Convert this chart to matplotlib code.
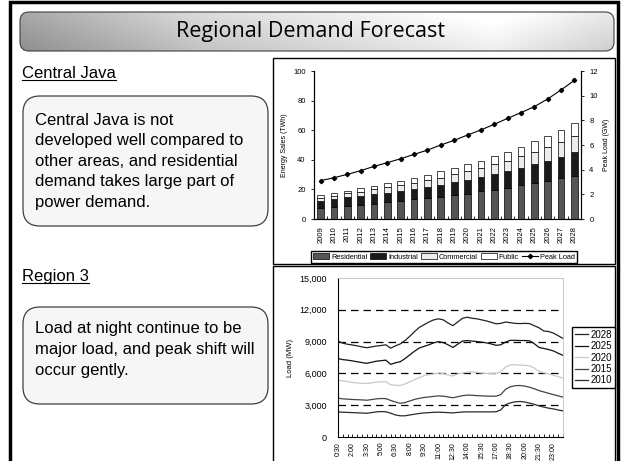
import numpy as np
import matplotlib.pyplot as plt
from matplotlib.patches import FancyBboxPatch, Rectangle
from matplotlib.ticker import StrMethodFormatter

plt.rcParams['font.family'] = ['Liberation Sans', 'DejaVu Sans']

# ---- data: Central Java energy sales (TWh) and peak load (GW)
years = [str(y) for y in range(2009, 2029)]
residential = [7.7, 8.3, 9.0, 9.7, 10.4, 11.3, 12.2, 13.3, 14.0, 14.9,
               16.0, 17.1, 18.7, 19.6, 21.2, 22.7, 24.3, 25.7, 27.5, 29.3]
industrial = [4.7, 5.2, 5.6, 5.8, 6.3, 6.5, 6.9, 7.0, 7.6, 8.3,
              9.0, 9.5, 9.7, 11.0, 11.2, 12.0, 12.6, 13.5, 14.6, 16.0]
commercial = [2.0, 2.3, 2.7, 3.0, 3.3, 3.6, 3.9, 4.2, 4.5, 4.7,
              5.4, 5.6, 6.3, 6.6, 7.0, 7.9, 8.6, 9.7, 9.9, 10.6]
public = [1.8, 1.8, 1.8, 2.2, 2.3, 2.7, 2.9, 3.2, 3.9, 4.3,
          3.8, 5.0, 4.7, 5.1, 5.9, 6.0, 7.0, 7.1, 8.0, 8.7]
peak_load = [3.11, 3.35, 3.62, 3.92, 4.27, 4.57, 4.89, 5.24, 5.59, 6.00,
             6.38, 6.81, 7.22, 7.68, 8.16, 8.62, 9.11, 9.73, 10.46, 11.24]

# ---- data: Region 3 daily load curve (MW), half-hourly 0:30 .. 24:00
hours = ['%d:%02d' % ((m // 60), m % 60) for m in range(30, 24 * 60 + 1, 30)]
load_2028 = [9050, 8850, 8750, 8680, 8600, 8500, 8420, 8500, 8580, 8630, 8700, 8380,
             8600, 8780, 9100, 9500, 9950, 10350, 10600, 10850, 11050, 11150, 11050, 10750,
             10500, 10850, 11200, 11300, 11200, 11150, 11050, 10950, 10820, 10680, 10720, 10850,
             10780, 10720, 10700, 10720, 10700, 10500, 10300, 10000, 9950, 9800, 9550, 9300]
load_2025 = [7400, 7300, 7250, 7180, 7100, 7020, 6950, 7050, 7150, 7200, 7250, 6850,
             7000, 7100, 7400, 7750, 8100, 8400, 8550, 8700, 8880, 9000, 8900, 8700,
             8450, 8750, 9050, 9100, 9050, 9000, 8950, 8880, 8780, 8650, 8700, 8950,
             9120, 9120, 9100, 9100, 9080, 8800, 8450, 8350, 8250, 8120, 7900, 7700]
load_2020 = [5370, 5300, 5220, 5150, 5100, 5070, 5050, 5100, 5180, 5200, 5220, 4920,
             4880, 4860, 5000, 5200, 5420, 5600, 5800, 5880, 5950, 6050, 5980, 5850,
             5750, 5950, 6050, 6100, 6150, 6100, 6030, 6000, 5980, 5970, 6150, 6600,
             6800, 6820, 6780, 6760, 6720, 6500, 6200, 6050, 5950, 5820, 5700, 5530]
load_2015 = [3660, 3600, 3570, 3540, 3520, 3500, 3470, 3530, 3600, 3630, 3620, 3450,
             3300, 3180, 3250, 3400, 3550, 3650, 3730, 3780, 3830, 3880, 3850, 3780,
             3700, 3800, 3900, 3950, 3940, 3900, 3880, 3860, 3850, 3850, 4000, 4500,
             4740, 4840, 4860, 4800, 4700, 4550, 4380, 4250, 4120, 4000, 3880, 3760]
load_2010 = [2370, 2340, 2320, 2300, 2280, 2260, 2240, 2300, 2370, 2400, 2380, 2250,
             2080, 2000, 2000, 2080, 2150, 2220, 2270, 2300, 2330, 2340, 2320, 2300,
             2270, 2320, 2360, 2370, 2370, 2370, 2370, 2370, 2370, 2380, 2550, 3050,
             3220, 3320, 3350, 3300, 3200, 3080, 2940, 2820, 2720, 2650, 2550, 2460]

W, H = 621, 461
fig = plt.figure(figsize=(W / 100, H / 100), dpi=100)

# background layer in pixel coordinates
bg = fig.add_axes([0, 0, 1, 1], zorder=0)
bg.set_xlim(0, W)
bg.set_ylim(H, 0)
bg.axis('off')

# slide outer frame
bg.plot([10, 10, 618, 618], [H + 5, 2, 2, H + 5], color='black', lw=2.5, solid_joinstyle='miter')

# title bar with gradient
title_box = FancyBboxPatch((20, 12), 594, 39, boxstyle='round,pad=0,rounding_size=9',
                           facecolor='none', edgecolor='#404040', lw=0.8, zorder=3)
bg.add_patch(title_box)
gx = np.linspace(0, 1, 300)
prof = np.interp(gx, [0, 0.3, 0.8, 1.0], [0.60, 0.80, 0.97, 0.85])
gy = np.linspace(0, 1, 40)[:, None]
grad = np.clip(prof[None, :] + 0.06 * (1 - gy) - 0.04 * gy, 0, 1)
im = bg.imshow(grad, cmap='gray', vmin=0, vmax=1, extent=[20, 614, 51, 12], aspect='auto', zorder=2)
im.set_clip_path(title_box)
bg.set_xlim(0, W)
bg.set_ylim(H, 0)
bg.text(310, 32, 'Regional Demand Forecast', fontsize=15.5, family=['Open Sans', 'DejaVu Sans'],
        ha='center', va='center', zorder=4)

# chart frames
bg.add_patch(Rectangle((273, 58), 342, 206, facecolor='white', edgecolor='black', lw=1.0))
bg.add_patch(Rectangle((273, 266), 342, 200, facecolor='white', edgecolor='black', lw=1.0))

# left side headings and notes
heads = []
for y, s in [(74, 'Central Java'), (276, 'Region 3')]:
    heads.append(bg.text(22, y, s, fontsize=12, ha='left', va='center'))

bg.add_patch(FancyBboxPatch((23, 96), 245, 130, boxstyle='round,pad=0,rounding_size=17',
                            facecolor='#f6f6f6', edgecolor='#404040', lw=0.9))
bg.add_patch(FancyBboxPatch((23, 307), 245, 97, boxstyle='round,pad=0,rounding_size=17',
                            facecolor='#f6f6f6', edgecolor='#404040', lw=0.9))
note1 = ['Central Java is not', 'developed well compared to', 'other areas, and residential',
         'demand takes large part of', 'power demand.']
for i, s in enumerate(note1):
    bg.text(35, 120 + i * 20.5, s, fontsize=12, ha='left', va='center')
note2 = ['Load at night continue to be', 'major load, and peak shift will', 'occur gently.']
for i, s in enumerate(note2):
    bg.text(35, 328 + i * 21, s, fontsize=12, ha='left', va='center')

# ---- bar chart
ax1 = fig.add_axes([314 / W, 1 - 219 / H, (581 - 314) / W, (219 - 71) / H], zorder=2)
x = np.arange(len(years))
bw = 0.5
b1 = ax1.bar(x, residential, bw, color='#555555', edgecolor='black', lw=0.5, label='Residential')
bot = np.array(residential)
b2 = ax1.bar(x, industrial, bw, bottom=bot, color='#1a1a1a', edgecolor='black', lw=0.5, label='Industrial')
bot = bot + np.array(industrial)
b3 = ax1.bar(x, commercial, bw, bottom=bot, color='#ececec', edgecolor='black', lw=0.5, label='Commercial')
bot = bot + np.array(commercial)
b4 = ax1.bar(x, public, bw, bottom=bot, color='white', edgecolor='black', lw=0.5, label='Public')
ax1.set_xlim(-0.5, len(years) - 0.5)
ax1.set_ylim(0, 100)
ax1.set_yticks(range(0, 101, 20))
ax1.set_xticks(x)
ax1.set_xticklabels(years, rotation=90, fontsize=5.5)
ax1.set_xticks(x[:-1] + 0.5, minor=True)
ax1.tick_params(axis='x', which='major', length=0, pad=5)
ax1.tick_params(axis='x', which='minor', length=2, direction='in')
ax1.tick_params(axis='y', labelsize=5.5, length=2.5, width=0.6)
ax1.set_ylabel('Energy Sales (TWh)', fontsize=5, labelpad=4)
ax1.spines['top'].set_visible(False)

ax2 = ax1.twinx()
ln, = ax2.plot(x, peak_load, color='black', lw=0.8, marker='D', ms=2.2, label='Peak Load')
ax2.set_ylim(0, 12)
ax2.set_yticks(range(0, 13, 2))
ax2.tick_params(axis='y', labelsize=5.5, length=2.5, width=0.6)
ax2.set_ylabel('Peak Load (GW)', fontsize=5, labelpad=4)
ax2.spines['top'].set_visible(False)

ax1.legend([b1, b2, b3, b4, ln], ['Residential', 'Industrial', 'Commercial', 'Public', 'Peak Load'],
           ncol=5, loc='center', bbox_to_anchor=(444 / W, 1 - 257 / H), bbox_transform=fig.transFigure,
           fontsize=5.3, frameon=True, fancybox=False, edgecolor='black', framealpha=1,
           handlelength=2.2, handleheight=0.8, columnspacing=0.4, handletextpad=0.25,
           borderpad=0.25, borderaxespad=0)

# ---- load curve chart
ax3 = fig.add_axes([338 / W, 1 - 437 / H, (563 - 338) / W, (437 - 278) / H], zorder=2)
t = np.arange(len(hours))
series = [('2028', load_2028, '#222222'), ('2025', load_2025, '#111111'),
          ('2020', load_2020, '#c8c8c8'), ('2015', load_2015, '#444444'),
          ('2010', load_2010, '#2a2a2a')]
for name, vals, col in series:
    ax3.plot(t, vals, color=col, lw=0.9, label=name)
for g in [3000, 6000, 9000, 12000]:
    ax3.axhline(g, color='black', lw=0.9, dashes=(6, 4), zorder=0)
ax3.set_xlim(0, len(hours) - 1)
ax3.set_ylim(0, 15000)
ax3.set_yticks(range(0, 15001, 3000))
ax3.yaxis.set_major_formatter(StrMethodFormatter('{x:,.0f}'))
ax3.set_xticks(t[::3])
ax3.set_xticklabels(hours[::3], rotation=90, fontsize=5)
ax3.set_xticks(t, minor=True)
ax3.tick_params(axis='x', which='both', length=2, direction='in', width=0.6)
ax3.tick_params(axis='y', labelsize=6.5, length=0, pad=8)
ax3.set_ylabel('Load (MW)', fontsize=5.5, labelpad=4)
for s in ['top', 'right']:
    ax3.spines[s].set_color('#c0c0c0')
    ax3.spines[s].set_linewidth(0.6)
ax3.legend(loc='center', bbox_to_anchor=(593.5 / W, 1 - 357.5 / H), bbox_transform=fig.transFigure,
           fontsize=7, frameon=True, fancybox=False, edgecolor='black', framealpha=1,
           handlelength=1.3, handletextpad=0.3, labelspacing=0.15, borderpad=0.3, borderaxespad=0)

# underline headings
fig.canvas.draw()
inv = bg.transData.inverted()
for h in heads:
    bb = h.get_window_extent()
    (x0, y0), (x1, y1) = inv.transform([(bb.x0, bb.y0), (bb.x1, bb.y1)])
    bg.plot([x0, x1], [y0 - 1, y0 - 1], color='black', lw=0.8)

fig.savefig('out.png', dpi=100)
